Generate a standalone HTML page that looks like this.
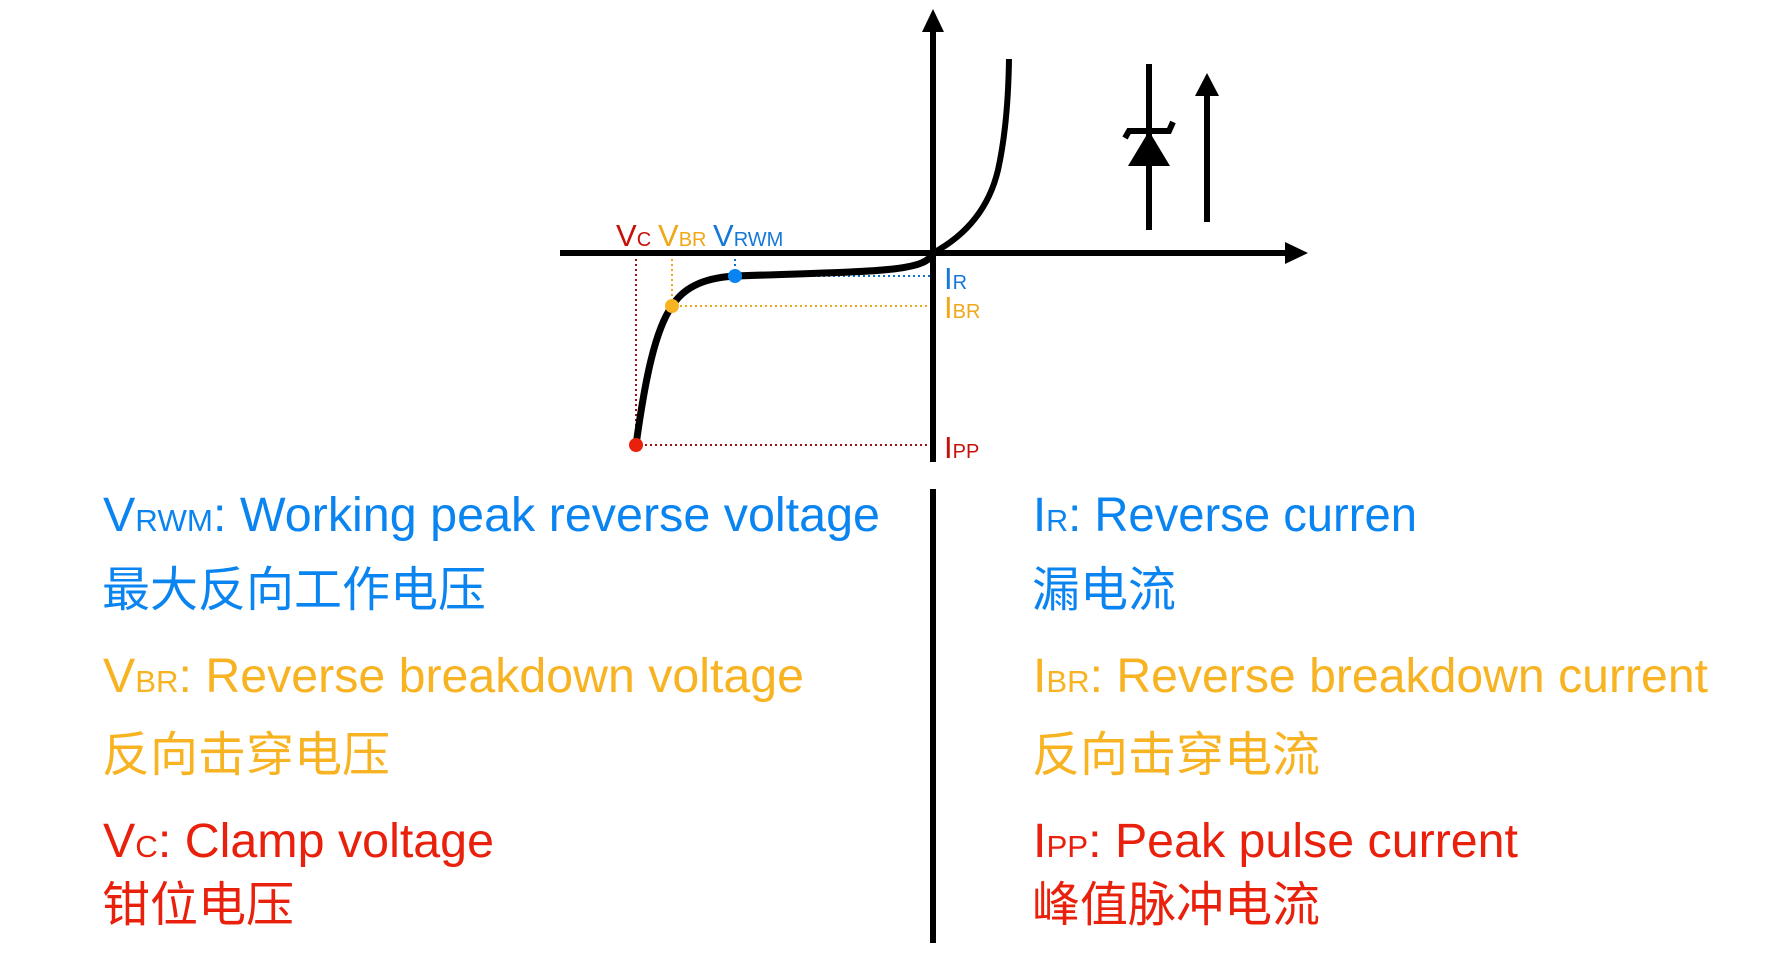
<!DOCTYPE html>
<html><head><meta charset="utf-8"><style>
html,body{margin:0;padding:0;background:#fff;}
svg{display:block;}
text{font-family:"Liberation Sans","Noto Sans CJK SC",sans-serif;}
.cjk{font-family:"Noto Sans CJK SC","WenQuanYi Zen Hei",sans-serif;}
</style></head><body>
<svg width="1780" height="962" viewBox="0 0 1780 962" xmlns="http://www.w3.org/2000/svg">
<rect width="1780" height="962" fill="#fff"/>
<g stroke-width="2" stroke-dasharray="2,3" fill="none">
<path d="M735,254 V276 H930" stroke="#0a6fd0"/>
<path d="M672,254 V306 H930" stroke="#e8a91a"/>
<path d="M636,254 V445 H930" stroke="#a01010"/>
</g>
<g stroke="#000" stroke-width="6" fill="none">
<line x1="560" y1="253" x2="1290" y2="253"/>
<line x1="933" y1="30" x2="933" y2="462"/>
<line x1="933" y1="489" x2="933" y2="943"/>
</g>
<polygon points="1308,253 1285,242 1285,264" fill="#000"/>
<polygon points="933,9 922,32 944,32" fill="#000"/>
<path d="M933,253 Q985,225 998,170 Q1008,125 1009,59" stroke="#000" stroke-width="6" fill="none"/>
<path d="M933,253 C925,272 880,271 735,276 C700,278 682,290 672,306 C655,330 645,380 636,445" stroke="#000" stroke-width="7" fill="none"/>
<circle cx="735" cy="276" r="7" fill="#0a84f0"/>
<circle cx="672" cy="306" r="7" fill="#f7b322"/>
<circle cx="636" cy="445" r="7" fill="#e8200c"/>
<g stroke="#000" stroke-width="6" fill="none">
<line x1="1149" y1="64" x2="1149" y2="230"/>
<polyline points="1125,138 1129,131 1169,131 1173,122"/>
<line x1="1207" y1="222" x2="1207" y2="92"/>
</g>
<polygon points="1149,131 1128,166 1170,166" fill="#000"/>
<polygon points="1207,73 1195,96 1219,96" fill="#000"/>
<text x="616" y="246" font-size="31" fill="#c8100a">V<tspan font-size="20">C</tspan></text>
<text x="658" y="246" font-size="31" fill="#f0a818">V<tspan font-size="20">BR</tspan></text>
<text x="713" y="246" font-size="31" fill="#1478d8">V<tspan font-size="20">RWM</tspan></text>
<text x="944" y="289" font-size="31" fill="#1478d8">I<tspan font-size="20">R</tspan></text>
<text x="944" y="318" font-size="31" fill="#f0a818">I<tspan font-size="20">BR</tspan></text>
<text x="944" y="458" font-size="31" fill="#c8100a">I<tspan font-size="20">PP</tspan></text>
<text x="103" y="531" font-size="48" fill="#0a84f0" textLength="777" lengthAdjust="spacingAndGlyphs">V<tspan font-size="31">RWM</tspan>: Working peak reverse voltage</text>
<text class="cjk" x="102" y="606" font-size="48" fill="#0a84f0">最大反向工作电压</text>
<text x="103" y="692" font-size="48" fill="#f7b322" textLength="701" lengthAdjust="spacingAndGlyphs">V<tspan font-size="31">BR</tspan>: Reverse breakdown voltage</text>
<text class="cjk" x="102" y="771" font-size="48" fill="#f7b322">反向击穿电压</text>
<text x="103" y="857" font-size="48" fill="#e8200c" textLength="391" lengthAdjust="spacingAndGlyphs">V<tspan font-size="31">C</tspan>: Clamp voltage</text>
<text class="cjk" x="102" y="921" font-size="48" fill="#e8200c">钳位电压</text>
<text x="1033" y="531" font-size="48" fill="#0a84f0" textLength="384" lengthAdjust="spacingAndGlyphs">I<tspan font-size="31">R</tspan>: Reverse curren</text>
<text class="cjk" x="1032" y="606" font-size="48" fill="#0a84f0">漏电流</text>
<text x="1033" y="692" font-size="48" fill="#f7b322" textLength="675" lengthAdjust="spacingAndGlyphs">I<tspan font-size="31">BR</tspan>: Reverse breakdown current</text>
<text class="cjk" x="1032" y="771" font-size="48" fill="#f7b322">反向击穿电流</text>
<text x="1033" y="857" font-size="48" fill="#e8200c" textLength="485" lengthAdjust="spacingAndGlyphs">I<tspan font-size="31">PP</tspan>: Peak pulse current</text>
<text class="cjk" x="1032" y="921" font-size="48" fill="#e8200c">峰值脉冲电流</text>
</svg>
</body></html>
